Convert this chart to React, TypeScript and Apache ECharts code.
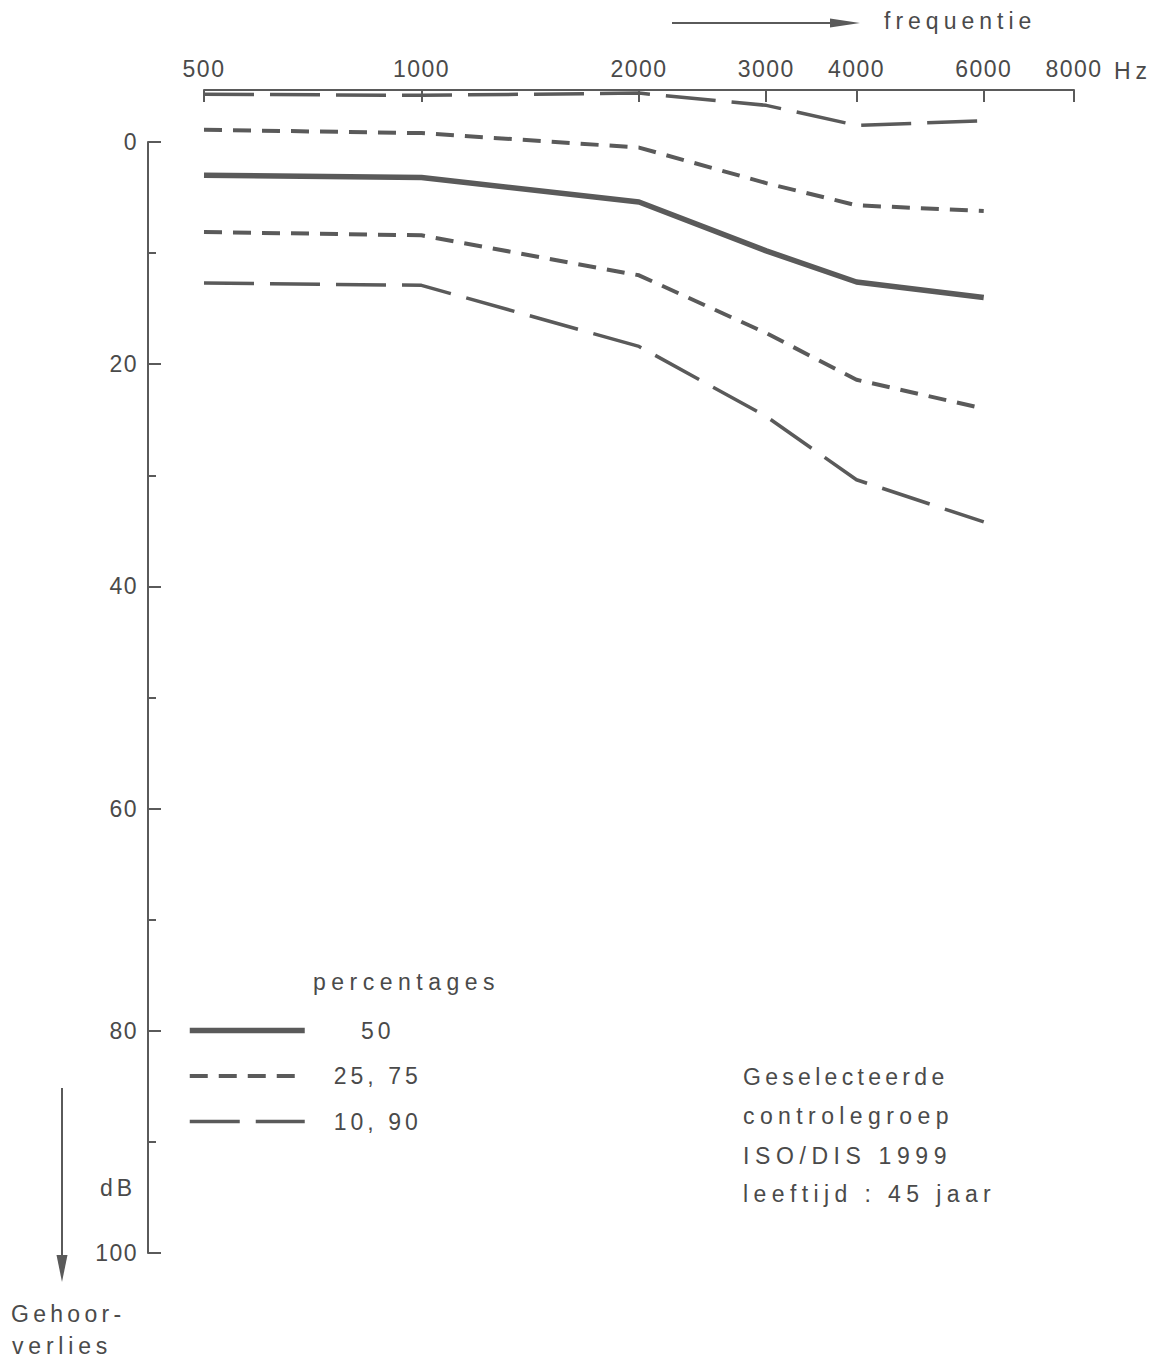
import React, { useEffect, useRef } from 'react';
import * as echarts from 'echarts';

// Frequencies (Hz) at which the percentile curves are given
const frequencies = [500, 1000, 2000, 3000, 4000, 6000];
// Frequencies labelled on the top axis
const axisFrequencies = [500, 1000, 2000, 3000, 4000, 6000, 8000];

// Hearing loss (dB) per percentile
const p10 = [-4.3, -4.2, -4.4, -3.3, -1.5, -1.9];
const p25 = [-1.1, -0.8, 0.5, 3.7, 5.7, 6.2];
const p50 = [3.0, 3.2, 5.4, 9.8, 12.6, 14.0];
const p75 = [8.1, 8.4, 12.0, 17.2, 21.4, 24.0];
const p90 = [12.7, 12.9, 18.4, 24.7, 30.4, 34.2];

const legendNames = ['50', '25, 75', '10, 90'];
const noteLines = ['Geselecteerde', 'controlegroep', 'ISO/DIS 1999', 'leeftijd : 45 jaar'];

const letterSpacing: Record<string, string> = {
  frequentie: '5px',
  percentages: '5.5px',
  Hz: '5px',
  Geselecteerde: '4.3px',
  controlegroep: '5.4px',
  'ISO/DIS 1999': '5.6px',
  'leeftijd : 45 jaar': '5.4px',
  'Gehoor-': '4.3px',
  verlies: '4.8px',
  dB: '4px',
  '25, 75': '4px',
  '10, 90': '4px',
  '50': '4px',
};

export default function App() {
  const ref = useRef<HTMLDivElement>(null);

  useEffect(() => {
    document.body.style.margin = '0';
    const el = ref.current!;
    const chart = echarts.init(el, null, { renderer: 'svg' });
    const ink = '#4a4a4a';
    const lineInk = '#5a5a5a';
    const font = 'Liberation Sans';
    const shortDash = [18, 11];
    const longDash = [50, 16];

    const mk = (name: string, values: number[], type: any, width: number) => ({
      name,
      type: 'line',
      data: frequencies.map((f, i) => [f, values[i]]),
      symbol: 'none',
      clip: false,
      silent: true,
      lineStyle: { color: lineInk, width, type, cap: 'butt', join: 'round' },
      itemStyle: { color: lineInk },
    });

    const noteY = [1077, 1116, 1156, 1194];

    const option: any = {
      animation: false,
      textStyle: { fontFamily: font, color: ink },
      grid: { left: 204, right: 96, top: 142, bottom: 110 },
      xAxis: {
        type: 'log',
        logBase: 2,
        min: 500,
        max: 8000,
        position: 'top',
        offset: 52,
        axisLine: { show: true, onZero: false, lineStyle: { color: lineInk, width: 2 } },
        axisTick: {
          show: true,
          inside: true,
          length: 12,
          lineStyle: { color: lineInk, width: 2 },
          customValues: axisFrequencies,
        },
        axisLabel: {
          show: true,
          customValues: axisFrequencies,
          fontSize: 23,
          fontFamily: font,
          color: ink,
          margin: 10,
          formatter: (v: number) => String(Math.round(v)),
        },
        splitLine: { show: false },
        minorTick: { show: false },
        minorSplitLine: { show: false },
      },
      yAxis: {
        type: 'value',
        inverse: true,
        min: 0,
        max: 100,
        interval: 20,
        position: 'left',
        offset: 56,
        axisLine: { show: true, onZero: false, lineStyle: { color: lineInk, width: 2 } },
        axisTick: { show: true, inside: true, length: 13, lineStyle: { color: lineInk, width: 2 } },
        minorTick: { show: true, splitNumber: 2, length: 8, lineStyle: { color: lineInk, width: 2 } },
        axisLabel: { fontSize: 23, fontFamily: font, color: ink, margin: 10 },
        splitLine: { show: false },
        minorSplitLine: { show: false },
      },
      legend: {
        data: legendNames,
        orient: 'vertical',
        left: 187,
        top: 1019,
        padding: 0,
        itemWidth: 115,
        itemHeight: 24,
        itemGap: 22.5,
        selectedMode: false,
        itemStyle: { opacity: 0 },
        lineStyle: { width: 'inherit' },
        formatter: (n: string) => `{t|${n}}`,
        textStyle: {
          rich: {
            t: { width: 136, align: 'center', fontSize: 23, lineHeight: 24, color: ink, fontFamily: font },
          },
        },
      },
      graphic: [
        {
          type: 'line',
          shape: { x1: 672, y1: 23, x2: 836, y2: 23 },
          style: { stroke: lineInk, lineWidth: 2 },
          silent: true,
        },
        {
          type: 'polygon',
          shape: { points: [[830, 18.5], [860, 23], [830, 27.5]] },
          style: { fill: lineInk },
          silent: true,
        },
        {
          type: 'text',
          left: 884,
          top: 21 - 12,
          style: { text: 'frequentie', fontSize: 23, fontFamily: font, fill: ink },
          silent: true,
        },
        {
          type: 'text',
          left: 1114,
          top: 71 - 12,
          style: { text: 'Hz', fontSize: 23, fontFamily: font, fill: ink },
          silent: true,
        },
        {
          type: 'text',
          left: 100,
          top: 1188 - 12,
          style: { text: 'dB', fontSize: 23, fontFamily: font, fill: ink },
          silent: true,
        },
        {
          type: 'line',
          shape: { x1: 62, y1: 1088, x2: 62, y2: 1260 },
          style: { stroke: lineInk, lineWidth: 2 },
          silent: true,
        },
        {
          type: 'polygon',
          shape: { points: [[56.5, 1255], [62, 1282], [67.5, 1255]] },
          style: { fill: lineInk },
          silent: true,
        },
        {
          type: 'text',
          left: 11,
          top: 1314 - 12,
          style: { text: 'Gehoor-', fontSize: 23, fontFamily: font, fill: ink },
          silent: true,
        },
        {
          type: 'text',
          left: 12,
          top: 1346 - 12,
          style: { text: 'verlies', fontSize: 23, fontFamily: font, fill: ink },
          silent: true,
        },
        {
          type: 'text',
          left: 313,
          top: 982 - 12,
          style: { text: 'percentages', fontSize: 23, fontFamily: font, fill: ink },
          silent: true,
        },
        ...noteLines.map((t, i) => ({
          type: 'text',
          left: 743,
          top: noteY[i] - 12,
          style: { text: t, fontSize: 23, fontFamily: font, fill: ink },
          silent: true,
        })),
      ],
      series: [
        mk('10, 90', p10, longDash, 3.5),
        mk('25, 75', p25, shortDash, 4),
        mk('50', p50, 'solid', 5.5),
        mk('25, 75', p75, shortDash, 4),
        mk('10, 90', p90, longDash, 3.5),
      ],
    };

    const applySpacing = () => {
      el.querySelectorAll('text').forEach((t) => {
        const s = letterSpacing[(t.textContent || '').trim()];
        (t as SVGTextElement).style.letterSpacing = s || '1.5px';
      });
    };

    chart.on('finished', applySpacing);
    chart.setOption(option);
    applySpacing();
    const raf = requestAnimationFrame(applySpacing);

    return () => {
      cancelAnimationFrame(raf);
      chart.dispose();
    };
  }, []);

  return <div ref={ref} style={{ width: 1170, height: 1363, background: '#fff' }} />;
}
